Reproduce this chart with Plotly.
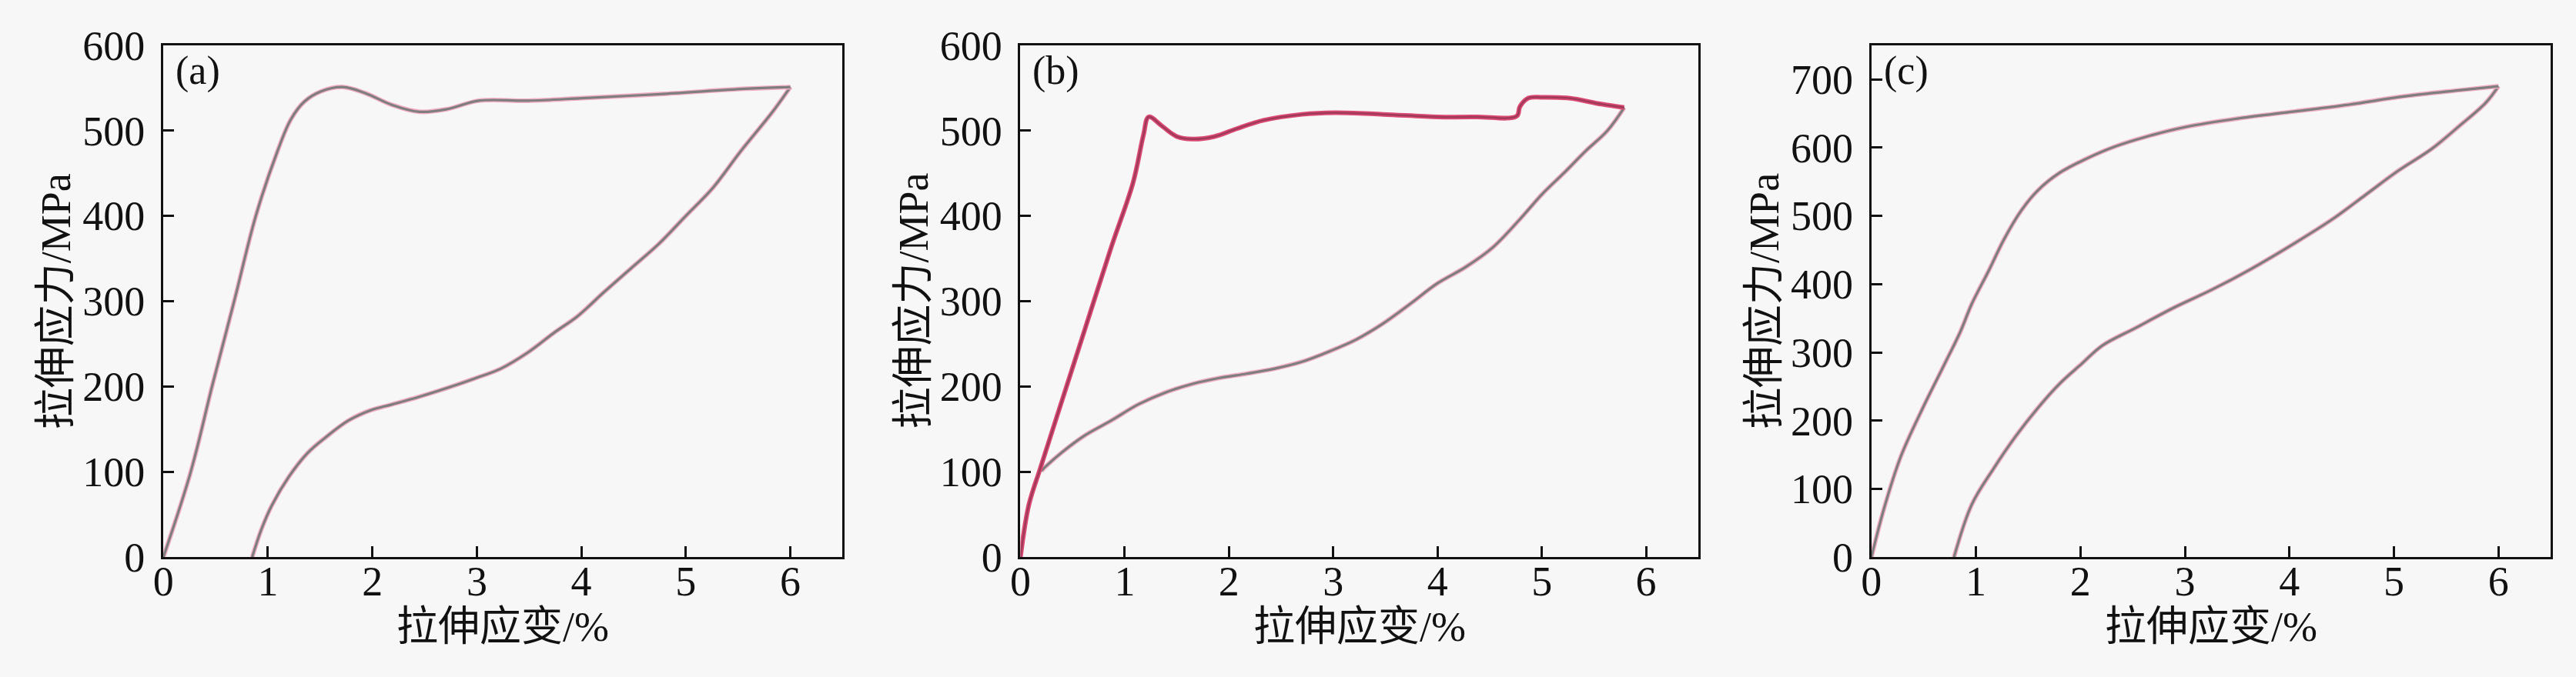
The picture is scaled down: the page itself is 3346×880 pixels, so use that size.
import plotly.graph_objects as go

# ---------------- data (strain %, stress MPa) ----------------
a_load_x = [0, 0.26, 0.47, 0.68, 0.885, 1.09, 1.22, 1.35, 1.51, 1.72, 1.93, 2.19, 2.45, 2.71, 3.02, 3.49, 4.01, 4.79, 5.57, 6.0]
a_load_y = [0, 99, 202, 301, 400, 475, 513, 534, 546, 551, 544, 530, 522, 525, 535, 535, 538, 543, 549, 551]
a_unl_x = [6.0, 5.83, 5.52, 5.26, 5.0, 4.74, 4.48, 4.22, 3.96, 3.75, 3.49, 3.23, 2.97, 2.71, 2.45, 2.19, 1.98, 1.77, 1.56, 1.38, 1.20, 1.04, 0.94, 0.85]
a_unl_y = [551, 522, 475, 433, 400, 367, 339, 311, 282, 264, 240, 221, 209, 198, 188, 179, 172, 160, 141, 122, 94, 61, 33, 0]

b_load_x = [0, 0.08, 0.19, 0.35, 0.61, 0.87, 1.08, 1.18, 1.23, 1.36, 1.50, 1.65, 1.86, 2.07, 2.33, 2.70, 3.01, 3.48, 4.0, 4.37, 4.76, 4.79, 4.87, 5.0, 5.26, 5.57, 5.79]
b_load_y = [0, 61, 104, 165, 264, 363, 439, 495, 516, 505, 493, 490, 493, 502, 512, 519, 521, 519, 516, 516, 517, 528, 538, 539, 538, 531, 527]
b_unl_x = [5.79, 5.63, 5.42, 5.21, 5.0, 4.79, 4.53, 4.27, 4.0, 3.74, 3.48, 3.22, 2.96, 2.70, 2.44, 2.17, 1.91, 1.65, 1.39, 1.13, 0.87, 0.61, 0.40, 0.24, 0.20]
b_unl_y = [527, 500, 476, 450, 425, 396, 363, 340, 321, 297, 274, 255, 241, 229, 221, 215, 210, 203, 193, 179, 160, 142, 123, 106, 101]

c_load_x = [0, 0.12, 0.28, 0.49, 0.70, 0.85, 0.96, 1.12, 1.27, 1.43, 1.59, 1.80, 2.06, 2.32, 2.63, 3.0, 3.52, 4.05, 4.57, 5.09, 5.62, 6.0]
c_load_y = [0, 71, 147, 218, 283, 330, 371, 419, 466, 507, 537, 563, 584, 601, 616, 630, 643, 653, 663, 675, 684, 690]
c_unl_x = [6.0, 5.88, 5.62, 5.36, 5.04, 4.73, 4.41, 4.05, 3.63, 3.26, 2.90, 2.53, 2.21, 2.01, 1.80, 1.59, 1.38, 1.17, 0.96, 0.79]
c_unl_y = [690, 666, 631, 598, 566, 531, 495, 460, 422, 392, 366, 336, 310, 283, 254, 218, 177, 130, 77, 0]

x_ticks = [0, 1, 2, 3, 4, 5, 6]
y_ticks_ab = [0, 100, 200, 300, 400, 500, 600]
y_ticks_c = [0, 100, 200, 300, 400, 500, 600, 700]
panel_labels = ["(a)", "(b)", "(c)"]
x_title = "拉伸应变/%"
y_title = "拉伸应力/MPa"

# ---------------- figure ----------------
W, H = 3346, 880
BG = "#f7f7f7"
FONT = "Liberation Serif, Noto Sans CJK SC, serif"
PINK = "#f3b0c4"
GRAY = "#7e7e7e"
INK = "#111111"

fig = go.Figure()

panels = [
    (a_load_x, a_load_y, a_unl_x, a_unl_y, False),
    (b_load_x, b_load_y, b_unl_x, b_unl_y, True),
    (c_load_x, c_load_y, c_unl_x, c_unl_y, False),
]
px_left = [199, 1317, 2427]
px_right = [1085, 2201, 3313]
px_top, px_bottom = 32, 746
y_ranges = [[0, 600], [0, 600], [0, 750]]
y_tick_sets = [y_ticks_ab, y_ticks_ab, y_ticks_c]


def add_curve(x, y, xa, ya, under, over, wu, wo):
    fig.add_trace(go.Scatter(x=x, y=y, mode="lines", xaxis=xa, yaxis=ya,
                             line=dict(color=under, width=wu, shape="spline"),
                             showlegend=False, hoverinfo="skip"))
    fig.add_trace(go.Scatter(x=x, y=y, mode="lines", xaxis=xa, yaxis=ya,
                             line=dict(color=over, width=wo, shape="spline"),
                             showlegend=False))


for i, (lx, ly, ux, uy, red_load) in enumerate(panels):
    xa = "x" if i == 0 else f"x{i+1}"
    ya = "y" if i == 0 else f"y{i+1}"
    add_curve(ux, uy, xa, ya, PINK, GRAY, 6, 3.2)
    if red_load:
        add_curve(lx, ly, xa, ya, "#dc4a74", "#a03a5a", 6, 2.5)
    else:
        add_curve(lx, ly, xa, ya, PINK, GRAY, 6, 3.2)

layout = dict(
    width=W, height=H,
    margin=dict(l=0, r=0, t=0, b=0),
    paper_bgcolor=BG, plot_bgcolor=BG,
    font=dict(family=FONT, size=54, color=INK),
    showlegend=False,
)

annotations = []
for i in range(3):
    xk = "xaxis" if i == 0 else f"xaxis{i+1}"
    yk = "yaxis" if i == 0 else f"yaxis{i+1}"
    xa = "x" if i == 0 else f"x{i+1}"
    ya = "y" if i == 0 else f"y{i+1}"
    layout[xk] = dict(
        domain=[px_left[i] / W, px_right[i] / W], range=[0, 6.5], anchor=ya,
        tickvals=x_ticks, ticktext=[str(t) for t in x_ticks],
        ticks="inside", ticklen=14, tickwidth=3, tickcolor=INK,
        showline=True, linewidth=3, linecolor=INK, mirror=True,
        showgrid=False, zeroline=False,
        tickfont=dict(family=FONT, size=54, color=INK),
        ticklabelstandoff=-18,
    )
    layout[yk] = dict(
        domain=[1 - px_bottom / H, 1 - px_top / H], range=y_ranges[i], anchor=xa,
        tickvals=y_tick_sets[i], ticktext=[str(t) for t in y_tick_sets[i]],
        ticks="inside", ticklen=14, tickwidth=3, tickcolor=INK,
        showline=True, linewidth=3, linecolor=INK, mirror=True,
        showgrid=False, zeroline=False,
        tickfont=dict(family=FONT, size=54, color=INK),
        ticklabelstandoff=10,
    )
    cx = (px_left[i] + px_right[i]) / 2 / W
    annotations.append(dict(text=x_title, x=cx, y=1 - 843 / H, xref="paper", yref="paper",
                            xanchor="center", yanchor="middle", showarrow=False,
                            font=dict(family=FONT, size=54, color=INK)))
    annotations.append(dict(text=y_title, x=(px_left[i] - 139) / W, y=1 - 389 / H, xref="paper", yref="paper",
                            xanchor="center", yanchor="middle", showarrow=False, textangle=-90,
                            font=dict(family=FONT, size=54, color=INK)))
    annotations.append(dict(text=panel_labels[i], x=(px_left[i] + 14) / W, y=1 - 68 / H, xref="paper", yref="paper",
                            xanchor="left", yanchor="middle", showarrow=False,
                            font=dict(family=FONT, size=52, color=INK)))

layout["annotations"] = annotations
fig.update_layout(**layout)
fig.write_html("out.html", config={"displayModeBar": False},
               post_script="document.body.style.margin='0';document.body.style.overflow='hidden';")
